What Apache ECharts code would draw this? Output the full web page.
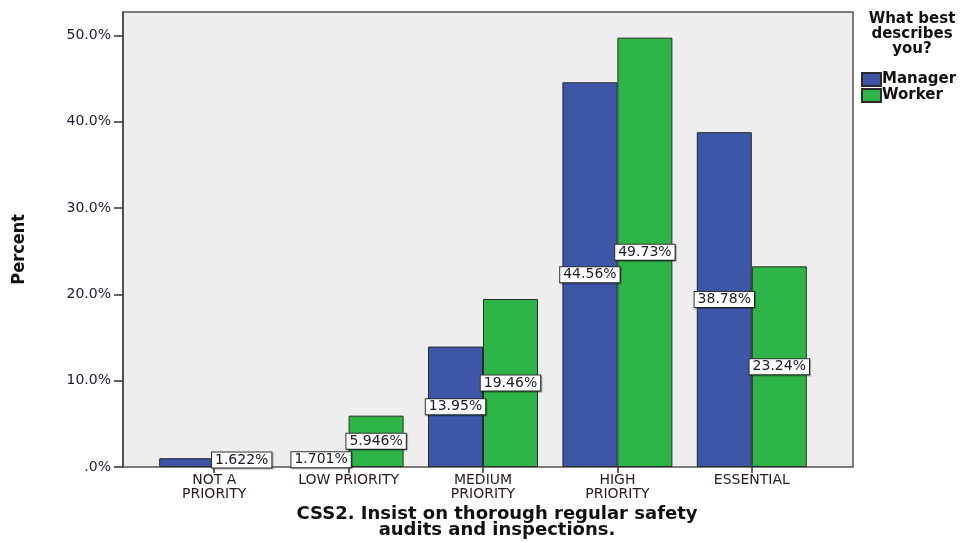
<!DOCTYPE html>
<html><head><meta charset="utf-8">
<script src="https://cdn.jsdelivr.net/npm/echarts@6/dist/echarts.min.js"></script>
<style>html,body{margin:0;padding:0;background:#fff}#c{width:972px;height:543px}</style>
</head><body><div id="c"></div>
<script>
const categories = ['NOT A\nPRIORITY', 'LOW PRIORITY', 'MEDIUM\nPRIORITY', 'HIGH\nPRIORITY', 'ESSENTIAL'];
const managerValues = [1.020, 1.701, 13.95, 44.56, 38.78];
const workerValues = [1.622, 5.946, 19.46, 49.73, 23.24];
const managerLabelShown = [false, true, true, true, true];
const yTicks = [0, 10, 20, 30, 40, 50];
const seriesNames = ['Manager', 'Worker'];

const FONT = 'DejaVu Sans';
const labelStyle = {
  show: true, position: 'inside', fontFamily: FONT, fontSize: 14, color: '#1a1a2a',
  backgroundColor: '#ffffff', borderColor: '#333', borderWidth: 1, padding: [1, 3, 0, 3],
  shadowColor: 'rgba(0,0,0,0.35)', shadowOffsetX: 1, shadowOffsetY: 1, shadowBlur: 1,
  formatter: p => p.value.toPrecision(4) + '%'
};

const chart = echarts.init(document.getElementById('c'), null, {renderer: 'canvas'});
chart.setOption({
  animation: false,
  backgroundColor: '#ffffff',
  grid: {left: 147, right: 153, top: 12, bottom: 76},
  graphic: [
    {type: 'rect', z: -1, shape: {x: 123, y: 12, width: 730, height: 455},
     style: {fill: '#eeeeee', stroke: '#555', lineWidth: 1.5}},
    {type: 'text', x: 912, y: 12, z: 5,
     style: {text: 'What best\ndescribes\nyou?', fontFamily: FONT, fontWeight: 'bold', fontSize: 15,
             lineHeight: 15, fill: '#111', align: 'center', verticalAlign: 'top'}},
    {type: 'text', left: 10, top: 214, rotation: Math.PI / 2, z: 5,
     style: {text: 'Percent', fontFamily: 'DejaVu Sans Condensed', fontWeight: 'bold', fontSize: 18, fill: '#111'}},
    {type: 'text', x: 497, y: 506, z: 5,
     style: {text: 'CSS2. Insist on thorough regular safety\naudits and inspections.', fontFamily: FONT,
             fontWeight: 'bold', fontSize: 18, lineHeight: 16, fill: '#111', align: 'center', verticalAlign: 'top'}}
  ],
  legend: {
    data: seriesNames, orient: 'vertical', left: 856, top: 67, itemGap: 1,
    icon: 'rect', itemWidth: 19, itemHeight: 13,
    textStyle: {fontFamily: FONT, fontWeight: 'bold', fontSize: 15, color: '#111', padding: [0, 0, 0, -4]}
  },
  xAxis: {
    type: 'category', data: categories,
    axisLine: {show: false},
    axisTick: {show: true, alignWithLabel: true, length: 6, lineStyle: {color: '#333', width: 1.5}},
    axisLabel: {fontFamily: FONT, fontSize: 14, color: '#2a1a1a', lineHeight: 14, margin: 6, interval: 0}
  },
  yAxis: {
    type: 'value', min: 0, max: 52.7, interval: 10, offset: 24,
    splitLine: {show: false},
    axisLine: {show: true, lineStyle: {color: '#444', width: 1.5}},
    axisTick: {show: true, length: 9, customValues: yTicks, lineStyle: {color: '#333', width: 1.5}},
    axisLabel: {customValues: yTicks, fontFamily: FONT, fontSize: 14, color: '#221a33', margin: 12,
                formatter: v => v === 0 ? '.0%' : v.toFixed(1) + '%'}
  },
  series: [
    {name: seriesNames[0], type: 'bar', barWidth: 55, barGap: '0%',
     itemStyle: {color: '#3d56a8', borderColor: '#2a2a2a', borderWidth: 1},
     data: managerValues.map((v, i) => ({value: v, label: Object.assign({}, labelStyle, {show: managerLabelShown[i]})})),
     label: labelStyle},
    {name: seriesNames[1], type: 'bar', barWidth: 55, barGap: '0%',
     itemStyle: {color: '#2eb548', borderColor: '#2a2a2a', borderWidth: 1},
     data: workerValues, label: labelStyle}
  ]
});
</script></body></html>
